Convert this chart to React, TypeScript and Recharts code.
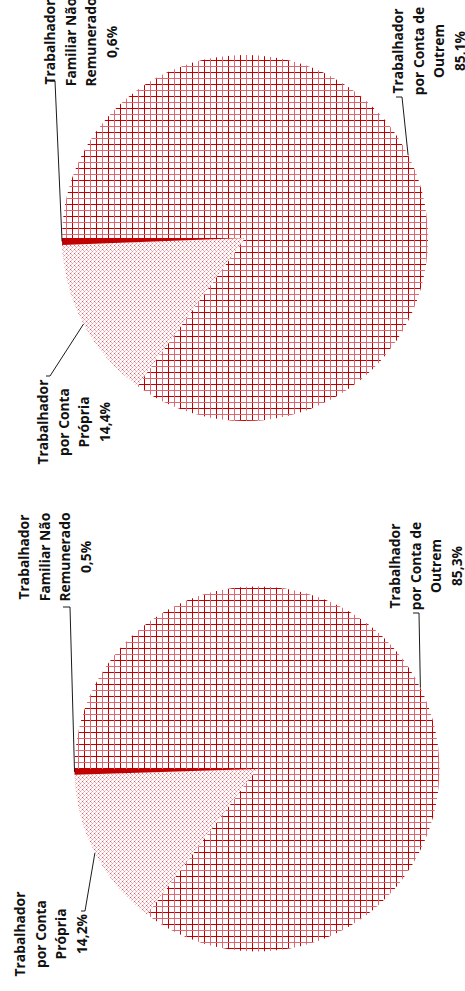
import { PieChart, Pie, Cell } from "recharts";

// two years of employment status shares (%), drawn rotated as in the source page
const CATEGORIES = [
  "Trabalhador por Conta de Outrem",
  "Trabalhador por Conta Própria",
  "Trabalhador Familiar Não Remunerado",
];
const LABEL_LINES = [
  ["Trabalhador", "por Conta de", "Outrem"],
  ["Trabalhador", "por Conta", "Própria"],
  ["Trabalhador", "Familiar Não", "Remunerado"],
];
const SHARES_TOP = [85.1, 14.4, 0.6];
const SHARES_BOTTOM = [85.3, 14.2, 0.5];
const FILLS = ["url(#grid)", "url(#dots)", "#C00000"];

const RAD = Math.PI / 180;
const LH = 20.5;

type LabelPos = { x: number; y: number; elbow: [number, number]; tick: [number, number] };

const TOP_LAYOUT: LabelPos[] = [
  { x: 398, y: 51, elbow: [402, 97], tick: [396, 97] },
  { x: 43, y: 422, elbow: [50, 376], tick: [46, 376] },
  { x: 50, y: 42, elbow: [55, 81], tick: [50, 81] },
];
const BOTTOM_LAYOUT: LabelPos[] = [
  { x: 395, y: 566, elbow: [419, 613], tick: [413, 613] },
  { x: 20, y: 934, elbow: [85, 911], tick: [81, 911] },
  { x: 24, y: 557, elbow: [70, 607], tick: [63, 607] },
];

const fmt = (v: number) => `${v.toFixed(1).replace(".", ",")}%`;

const toRows = (shares: number[]) => CATEGORIES.map((name, i) => ({ name, value: shares[i] }));

function makeLabel(layout: LabelPos[]) {
  return (props: any) => {
    const { cx, cy, midAngle, outerRadius, index, value } = props;
    const sx = cx + outerRadius * Math.cos(-midAngle * RAD);
    const sy = cy + outerRadius * Math.sin(-midAngle * RAD);
    const p = layout[index];
    const lines = [...LABEL_LINES[index], fmt(value)];
    return (
      <g>
        <polyline
          points={`${sx},${sy} ${p.elbow[0]},${p.elbow[1]} ${p.tick[0]},${p.tick[1]}`}
          fill="none"
          stroke="#1a1a1a"
          strokeWidth={1}
        />
        <g transform={`translate(${p.x},${p.y}) rotate(-90)`}>
          <text textAnchor="middle" fontFamily="'Open Sans', sans-serif" fontWeight={700} fontSize={13.8} fill="#111">
            {lines.map((l, i) => (
              <tspan key={i} x={0} y={i * LH + 5}>
                {l}
              </tspan>
            ))}
          </text>
        </g>
      </g>
    );
  };
}

export default function App() {
  return (
    <div style={{ position: "absolute", left: 0, top: 0, width: 465, height: 991, background: "#fff" }}>
      <PieChart width={465} height={991} margin={{ top: 0, right: 0, bottom: 0, left: 0 }}>
        <defs>
          <pattern id="grid" width="12" height="12" patternUnits="userSpaceOnUse">
            <rect width="12" height="12" fill="#fff" />
            <path d="M0.5 0V12M0 0.5H12" stroke="#C00000" strokeWidth={1} />
            <path d="M6.5 0V12M0 6.5H12" stroke="#DD6A73" strokeWidth={1} />
          </pattern>
          <pattern id="dots" width="4" height="4" patternUnits="userSpaceOnUse">
            <rect width="4" height="4" fill="#fff" />
            <rect x="0" y="3" width="1" height="1" fill="#E8939B" />
            <rect x="1" y="2" width="1" height="1" fill="#F5C9CD" />
            <rect x="2" y="1" width="1" height="1" fill="#DC5A66" />
            <rect x="3" y="0" width="1" height="1" fill="#F3BCC1" />
            <rect x="3" y="2" width="1" height="1" fill="#F0ABB1" />
            <rect x="1" y="0" width="1" height="1" fill="#FAE3E5" />
          </pattern>
        </defs>
        <Pie
          data={toRows(SHARES_TOP)}
          dataKey="value"
          nameKey="name"
          cx={245}
          cy={238}
          outerRadius={183}
          startAngle={180}
          endAngle={-180}
          stroke="none"
          label={makeLabel(TOP_LAYOUT)}
          labelLine={false}
          isAnimationActive={false}
        >
          {FILLS.map((f, i) => (
            <Cell key={i} fill={f} />
          ))}
        </Pie>
        <Pie
          data={toRows(SHARES_BOTTOM)}
          dataKey="value"
          nameKey="name"
          cx={257}
          cy={769}
          outerRadius={182.5}
          startAngle={180}
          endAngle={-180}
          stroke="none"
          label={makeLabel(BOTTOM_LAYOUT)}
          labelLine={false}
          isAnimationActive={false}
        >
          {FILLS.map((f, i) => (
            <Cell key={i} fill={f} />
          ))}
        </Pie>
      </PieChart>
    </div>
  );
}
